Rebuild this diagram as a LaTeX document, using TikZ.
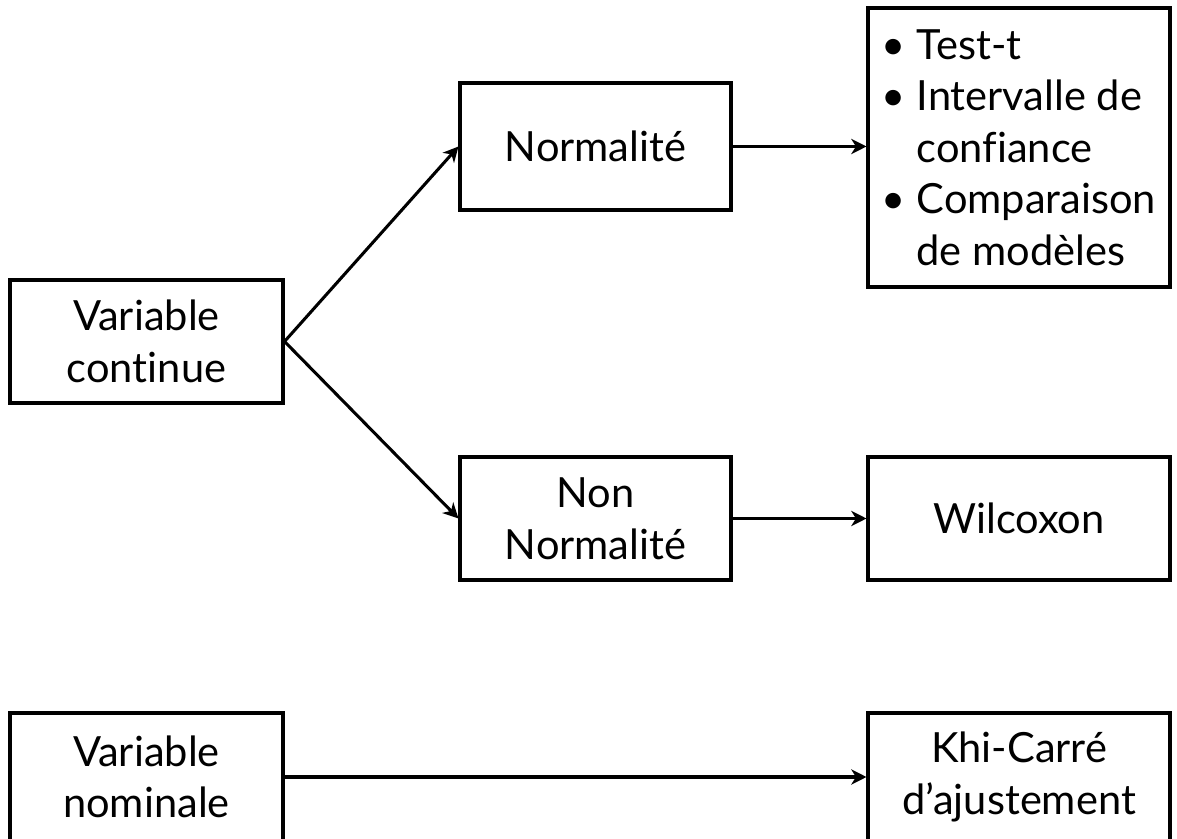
\documentclass[tikz,border=0pt]{standalone}
\usepackage{fontspec}
\setmainfont{Lato}[Ligatures={TeX,NoCommon}]
\usepackage{tikz}
\usetikzlibrary{arrows.meta}

\tikzset{
  box/.style={draw, line width=2.6pt, minimum width=8.13cm, minimum height=3.69cm,
    inner sep=0pt, align=center, font=\fontsize{35.5}{44}\selectfont},
  widebox/.style={box, minimum width=9.06cm},
  link/.style={line width=2.6pt, -{Stealth[length=13pt, width=13pt, inset=4pt]}}
}
\newcommand{\itm}{\textbullet\ }
\newcommand{\noitm}{\phantom{\textbullet\ }}

\begin{document}
\begin{tikzpicture}
\useasboundingbox (0,0) rectangle (35.31,25.14);
\clip (0,0) rectangle (35.31,25.14);
% continuous branch
\node[box, minimum width=8.19cm] (cont) at (4.395,14.895) {Variable\\continue};
\node[box, minimum height=3.81cm] (norm) at (17.865,20.745) {Normalité};
\node[widebox, minimum height=8.37cm, align=left] (tests) at (30.57,20.715)
  {\itm Test-t\\ \itm Intervalle de\\ \noitm confiance\\ \itm Comparaison\\ \noitm de modèles};
\node[box] (nonnorm) at (17.865,9.585) {Non\\Normalité};
\node[widebox] (wilc) at (30.57,9.585) {Wilcoxon};
% nominal branch, cut off at the bottom
\node[box, minimum width=8.19cm, minimum height=3.84cm] (nomin) at (4.395,1.83) {Variable\\nominale};
\node[widebox, minimum height=3.84cm] (khi) at (30.57,1.83) {Khi-Carré\\d'ajustement};

\draw[link] (cont.east) -- (norm.west);
\draw[link] (cont.east) -- (nonnorm.west);
\draw[link] (norm.east) -- (tests.west |- norm.east);
\draw[link] (nonnorm.east) -- (wilc.west);
\draw[link] (nomin.east) -- (khi.west);
\end{tikzpicture}
\end{document}
